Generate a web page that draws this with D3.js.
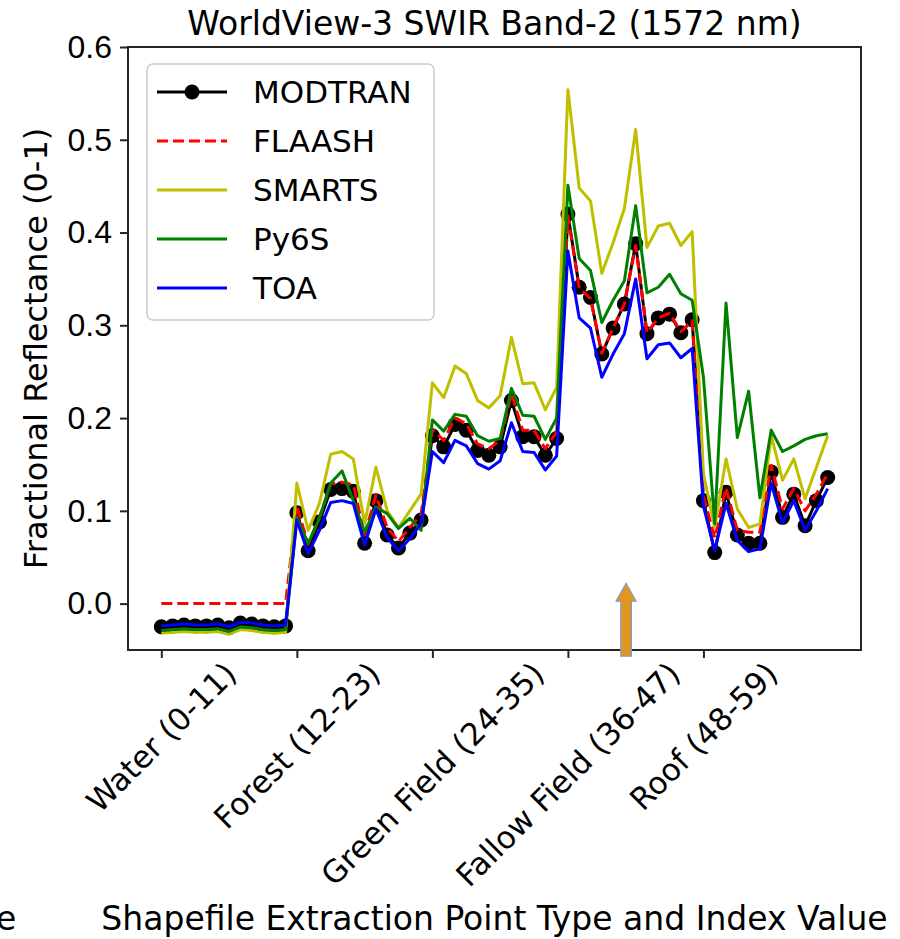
<!DOCTYPE html>
<html>
<head>
  <meta charset="utf-8">
  <script src="https://cdn.jsdelivr.net/npm/d3@7"></script>
  <style>
    body { margin: 0; background: white; }
    svg { font-family: "DejaVu Sans", sans-serif; }
    .series { fill: none; stroke-width: 3; stroke-linejoin: round; }
    .axis path, .axis line { stroke: #262626; stroke-width: 2; }
  </style>
</head>
<body>
<svg id="chart" width="900" height="939"></svg>
<script>
  // point index 0..59, five land-cover groups of 12
  const tickIndex = [0, 12, 24, 36, 48];
  const tickLabels = ["Water (0-11)", "Forest (12-23)", "Green Field (24-35)", "Fallow Field (36-47)", "Roof (48-59)"];
  const yTicks = [0.0, 0.1, 0.2, 0.3, 0.4, 0.5, 0.6];

  const modtran = [
    -0.025, -0.024, -0.023, -0.024, -0.024, -0.023, -0.026, -0.021, -0.022, -0.024, -0.025, -0.024,
    0.098, 0.057, 0.088, 0.123, 0.124, 0.121, 0.065, 0.111, 0.074, 0.060, 0.076, 0.090,
    0.181, 0.169, 0.193, 0.187, 0.165, 0.160, 0.169, 0.219, 0.180, 0.180, 0.160, 0.178,
    0.420, 0.341, 0.330, 0.269, 0.297, 0.323, 0.388, 0.291, 0.308, 0.312, 0.292, 0.306,
    0.111, 0.055, 0.120, 0.074, 0.065, 0.065, 0.142, 0.093, 0.118, 0.084, 0.111, 0.136
  ];
  const flaash = [
    0.0, 0.0, 0.0, 0.0, 0.0, 0.0, 0.0, 0.0, 0.0, 0.0, 0.0, 0.0,
    0.105, 0.064, 0.093, 0.129, 0.131, 0.128, 0.074, 0.117, 0.082, 0.067, 0.082, 0.096,
    0.188, 0.176, 0.200, 0.194, 0.172, 0.167, 0.176, 0.226, 0.187, 0.187, 0.167, 0.185,
    0.418, 0.340, 0.329, 0.270, 0.297, 0.323, 0.386, 0.292, 0.308, 0.313, 0.293, 0.305,
    0.116, 0.071, 0.125, 0.079, 0.077, 0.077, 0.149, 0.102, 0.124, 0.100, 0.118, 0.140
  ];
  const smarts = [
    -0.032, -0.031, -0.030, -0.031, -0.031, -0.030, -0.033, -0.028, -0.029, -0.031, -0.032, -0.031,
    0.130, 0.079, 0.108, 0.161, 0.164, 0.156, 0.086, 0.147, 0.100, 0.082, 0.100, 0.118,
    0.238, 0.222, 0.256, 0.248, 0.219, 0.211, 0.224, 0.287, 0.237, 0.238, 0.209, 0.233,
    0.554, 0.448, 0.434, 0.356, 0.389, 0.426, 0.511, 0.384, 0.407, 0.410, 0.386, 0.401,
    0.140, 0.082, 0.156, 0.102, 0.082, 0.086, 0.181, 0.133, 0.156, 0.113, 0.147, 0.181
  ];
  const py6s = [
    -0.029, -0.028, -0.027, -0.028, -0.028, -0.027, -0.030, -0.025, -0.026, -0.028, -0.029, -0.028,
    0.093, 0.065, 0.092, 0.130, 0.143, 0.111, 0.077, 0.104, 0.097, 0.081, 0.092, 0.079,
    0.198, 0.186, 0.204, 0.202, 0.181, 0.175, 0.178, 0.232, 0.203, 0.202, 0.177, 0.200,
    0.451, 0.372, 0.359, 0.303, 0.327, 0.348, 0.429, 0.335, 0.341, 0.355, 0.334, 0.327,
    0.244, 0.086, 0.324, 0.179, 0.229, 0.114, 0.187, 0.164, 0.170, 0.177, 0.181, 0.183
  ];
  const toa = [
    -0.024, -0.023, -0.022, -0.023, -0.023, -0.022, -0.025, -0.020, -0.021, -0.023, -0.024, -0.023,
    0.090, 0.054, 0.079, 0.109, 0.111, 0.108, 0.063, 0.102, 0.071, 0.057, 0.070, 0.086,
    0.164, 0.152, 0.176, 0.170, 0.151, 0.145, 0.154, 0.195, 0.164, 0.163, 0.144, 0.159,
    0.380, 0.308, 0.297, 0.244, 0.269, 0.291, 0.350, 0.264, 0.279, 0.281, 0.265, 0.275,
    0.105, 0.057, 0.108, 0.068, 0.056, 0.059, 0.130, 0.087, 0.111, 0.079, 0.100, 0.124
  ];

  const series = [
    { name: "MODTRAN", values: modtran, color: "#000000", dash: null, markers: true },
    { name: "FLAASH", values: flaash, color: "#ff0000", dash: "11,5", markers: false },
    { name: "SMARTS", values: smarts, color: "#bfbf00", dash: null, markers: false },
    { name: "Py6S", values: py6s, color: "#008000", dash: null, markers: false },
    { name: "TOA", values: toa, color: "#0000ff", dash: null, markers: false }
  ];

  const margin = { left: 128, right: 39, top: 47, bottom: 289 };
  const width = 900, height = 939;
  const svg = d3.select("#chart");

  const x = d3.scaleLinear().domain([-2.95, 61.95]).range([margin.left, width - margin.right]);
  const y = d3.scaleLinear().domain([-0.05, 0.6]).range([height - margin.bottom, margin.top]);

  // series
  const line = d3.line().x((d, i) => x(i)).y(d => y(d));
  series.forEach(s => {
    if (s.markers) {
      svg.append("g").selectAll("circle")
        .data(s.values)
        .join("circle")
          .attr("cx", (d, i) => x(i))
          .attr("cy", d => y(d))
          .attr("r", 7.5)
          .attr("fill", s.color);
    }
    svg.append("path")
      .datum(s.values)
      .attr("class", "series")
      .attr("stroke", s.color)
      .attr("stroke-dasharray", s.dash)
      .attr("d", line);
  });

  // frame + axes
  svg.append("rect")
    .attr("x", margin.left).attr("y", margin.top)
    .attr("width", width - margin.left - margin.right)
    .attr("height", height - margin.top - margin.bottom)
    .attr("fill", "none").attr("stroke", "#262626").attr("stroke-width", 2);

  const yAxis = svg.append("g")
    .attr("class", "axis")
    .attr("transform", `translate(${margin.left},0)`)
    .call(d3.axisLeft(y).tickValues(yTicks).tickFormat(d3.format(".1f")).tickSize(8).tickPadding(8));
  yAxis.select(".domain").remove();
  yAxis.selectAll("text").attr("font-size", 32).attr("fill", "#000");

  const xAxis = svg.append("g")
    .attr("class", "axis")
    .attr("transform", `translate(0,${height - margin.bottom})`)
    .call(d3.axisBottom(x).tickValues(tickIndex).tickFormat("").tickSize(8));
  xAxis.select(".domain").remove();

  // rotated category labels, bounding box centred under each tick
  const labelSize = 31;
  const labelTop = height - margin.bottom + 7;
  const xl = svg.append("g");
  tickIndex.forEach((t, i) => {
    const txt = xl.append("text")
      .attr("font-size", labelSize)
      .attr("text-anchor", "middle")
      .attr("dominant-baseline", "central")
      .text(tickLabels[i]);
    const w = txt.node().getComputedTextLength();
    const half = (w + labelSize) / (2 * Math.SQRT2);
    txt.attr("transform", `translate(${x(t)},${labelTop + half}) rotate(-45)`);
  });

  // titles
  svg.append("text")
    .attr("x", (margin.left + width - margin.right) / 2).attr("y", 35)
    .attr("text-anchor", "middle").attr("font-size", 33)
    .text("WorldView-3 SWIR Band-2 (1572 nm)");
  svg.append("text")
    .attr("x", (margin.left + width - margin.right) / 2).attr("y", 930)
    .attr("text-anchor", "middle").attr("font-size", 33)
    .text("Shapefile Extraction Point Type and Index Value");
  svg.append("text")
    .attr("transform", `translate(36,${(margin.top + height - margin.bottom) / 2}) rotate(-90)`)
    .attr("text-anchor", "middle").attr("dominant-baseline", "central").attr("font-size", 32)
    .text("Fractional Reflectance (0-1)");
  // clipped end of the neighbouring panel's axis label
  svg.append("text").attr("x", -4).attr("y", 930).attr("font-size", 33).text("e");

  // legend
  const lg = svg.append("g").attr("transform", "translate(147,64)");
  lg.append("rect")
    .attr("width", 287).attr("height", 256).attr("rx", 6)
    .attr("fill", "white").attr("fill-opacity", 0.8)
    .attr("stroke", "#cccccc").attr("stroke-width", 1.5);
  series.forEach((s, i) => {
    const row = lg.append("g").attr("transform", `translate(0,${28 + i * 49})`);
    row.append("line")
      .attr("x1", 10).attr("x2", 80)
      .attr("stroke", s.color).attr("stroke-width", 3)
      .attr("stroke-dasharray", s.dash);
    if (s.markers) row.append("circle").attr("cx", 45).attr("r", 7.5).attr("fill", s.color);
    row.append("text")
      .attr("x", 106).attr("font-size", 31)
      .attr("dominant-baseline", "central")
      .text(s.name);
  });

  // orange arrow annotation
  const ax = x(41.15), tipY = y(0.022);
  const arrow = d3.path();
  arrow.moveTo(ax, tipY);
  arrow.lineTo(ax + 10, tipY + 18);
  arrow.lineTo(ax + 5.3, tipY + 18);
  arrow.lineTo(ax + 5.3, tipY + 73);
  arrow.lineTo(ax - 5.3, tipY + 73);
  arrow.lineTo(ax - 5.3, tipY + 18);
  arrow.lineTo(ax - 10, tipY + 18);
  arrow.closePath();
  svg.append("path")
    .attr("d", arrow.toString())
    .attr("fill", "#e0961f")
    .attr("stroke", "#7f9fc8")
    .attr("stroke-width", 1.2);
</script>
</body>
</html>
